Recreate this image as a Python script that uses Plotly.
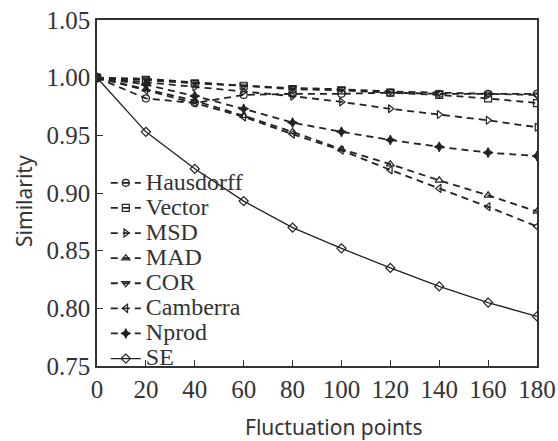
import plotly.graph_objects as go

# fluctuation points on the x axis
points = [0, 20, 40, 60, 80, 100, 120, 140, 160, 180]

hausdorff = [1.000, 0.982, 0.978, 0.985, 0.986, 0.986, 0.987, 0.986, 0.986, 0.986]
vector = [1.000, 0.998, 0.995, 0.993, 0.990, 0.989, 0.987, 0.985, 0.982, 0.978]
msd = [1.000, 0.996, 0.992, 0.988, 0.984, 0.979, 0.973, 0.968, 0.963, 0.957]
mad = [1.000, 0.990, 0.980, 0.967, 0.953, 0.938, 0.925, 0.911, 0.898, 0.884]
cor = [1.000, 0.999, 0.996, 0.993, 0.991, 0.990, 0.988, 0.987, 0.986, 0.985]
camberra = [1.000, 0.989, 0.978, 0.966, 0.951, 0.937, 0.920, 0.904, 0.888, 0.871]
nprod = [1.000, 0.994, 0.984, 0.973, 0.961, 0.953, 0.946, 0.940, 0.935, 0.932]
se = [1.000, 0.953, 0.921, 0.893, 0.870, 0.852, 0.835, 0.819, 0.805, 0.793]

series = [
    ("Hausdorff", hausdorff, "circle-open"),
    ("Vector", vector, "square-open"),
    ("MSD", msd, "triangle-right-open"),
    ("MAD", mad, "triangle-up-open"),
    ("COR", cor, "triangle-down-open"),
    ("Camberra", camberra, "triangle-left-open"),
    ("Nprod", nprod, "star-diamond"),
    ("SE", se, "diamond-open"),
]

SERIF = "Liberation Serif, Times New Roman, serif"
SANS = "Noto Sans, Open Sans, sans-serif"
INK = "#222222"

fig = go.Figure()
for name, values, symbol in series:
    solid = name == "SE"
    fig.add_trace(
        go.Scatter(
            x=points,
            y=values,
            # larger text inside a tighter legend row
            name=f'<span style="font-size:24px">{name}</span>',
            mode="lines+markers",
            line=dict(color=INK, width=1.3 if solid else 1.8,
                      dash="solid" if solid else "7px,5px"),
            marker=dict(symbol=symbol, size=7, color=INK,
                        line=dict(color=INK, width=1.2)),
        )
    )

axis_common = dict(
    showline=True,
    linecolor="#333333",
    linewidth=1.5,
    mirror=True,
    ticks="inside",
    ticklen=6,
    tickwidth=1.3,
    tickcolor="#333333",
    showgrid=False,
    zeroline=False,
    automargin=False,
    tickfont=dict(family=SERIF, size=25, color="#333333"),
)

fig.update_xaxes(range=[0, 180], dtick=20, tick0=0, **axis_common)
fig.update_yaxes(range=[0.75, 1.05], dtick=0.05, tick0=0.75, tickformat=".2f",
                 **axis_common)

title_font = dict(family=SANS, size=21, color="#333333")
fig.add_annotation(text="Fluctuation points", xref="paper", yref="paper",
                   x=0.539, y=-0.176, xanchor="center", yanchor="middle",
                   showarrow=False, font=title_font)
fig.add_annotation(text="Similarity", xref="paper", yref="paper",
                   x=-0.166, y=0.477, xanchor="center", yanchor="middle",
                   textangle=-90, showarrow=False, font=title_font)

fig.update_layout(
    width=558,
    height=441,
    margin=dict(l=97, r=21, t=20, b=75),
    plot_bgcolor="white",
    paper_bgcolor="white",
    showlegend=True,
    legend=dict(
        x=0.02,
        y=0.58,
        xanchor="left",
        yanchor="top",
        bgcolor="rgba(0,0,0,0)",
        font=dict(family=SERIF, size=17, color="#333333"),
        itemwidth=30,
        tracegroupgap=0,
    ),
)

# drop the browser's default 8px body margin so the figure fills the window
fig.write_html(
    "out.html",
    config={"displayModeBar": False},
    post_script="document.body.style.margin='0';",
)
